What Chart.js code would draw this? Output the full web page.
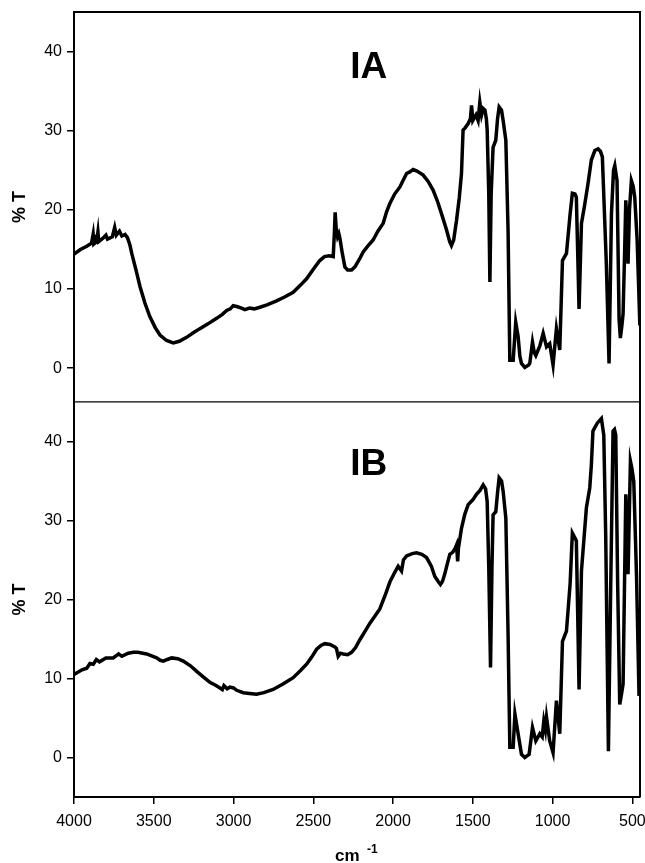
<!DOCTYPE html>
<html>
<head>
<meta charset="utf-8">
<script src="https://cdn.jsdelivr.net/npm/chart.js@4.4.1/dist/chart.umd.min.js"></script>
<style>
  html, body { margin: 0; padding: 0; background: #fff; }
  #wrap { width: 645px; height: 863px; position: relative; }
</style>
</head>
<body>
<div id="wrap"><canvas id="irChart"></canvas></div>
<script>
// wavenumber ticks (cm-1) and %T ticks
const xTicks = [4000, 3500, 3000, 2500, 2000, 1500, 1000, 500];
const yTicks = [0, 10, 20, 30, 40];
const panelNames = ['IA', 'IB'];

// spectrum IA (top)
const iaWave = [4000, 3960, 3920, 3890, 3880, 3875, 3858, 3850, 3845, 3820, 3800, 3790, 3760, 3745, 3735, 3715, 3700, 3680, 3665, 3650,
  3638, 3610, 3586, 3555, 3524, 3490, 3461, 3420, 3378, 3340, 3294, 3250, 3211, 3160, 3106, 3070, 3043, 3020, 3002, 2980,
  2950, 2929, 2900, 2870, 2835, 2790, 2730, 2680, 2626, 2580, 2542, 2500, 2459, 2430, 2400, 2375, 2368, 2363, 2356, 2348,
  2340, 2333, 2318, 2302, 2285, 2260, 2239, 2210, 2187, 2160, 2125, 2095, 2062, 2040, 2020, 1990, 1957, 1935, 1915, 1895,
  1874, 1850, 1811, 1780, 1749, 1720, 1696, 1665, 1645, 1634, 1620, 1602, 1585, 1571, 1561, 1550, 1529, 1515, 1508, 1500,
  1480, 1467, 1456, 1445, 1435, 1424, 1415, 1410, 1400, 1393, 1385, 1373, 1356, 1345, 1335, 1320, 1310, 1293, 1279, 1268,
  1247, 1231, 1216, 1205, 1195, 1174, 1150, 1143, 1126, 1115, 1105, 1080, 1059, 1038, 1018, 997, 976, 955, 938, 913,
  890, 876, 860, 851, 834, 819, 800, 778, 757, 735, 715, 700, 688, 663, 646, 631, 618, 610, 596, 583,
  575, 565, 558, 548, 541, 534, 527, 518, 506, 495, 485, 470, 460, 453];
const iaT = [14.4, 15.0, 15.4, 15.8, 16.9, 15.7, 16.0, 17.2, 16.0, 16.4, 16.8, 16.3, 16.6, 17.8, 16.8, 17.3, 16.7, 16.9, 16.5, 15.6,
  14.5, 12.3, 10.3, 8.2, 6.5, 5.1, 4.2, 3.5, 3.2, 3.4, 3.9, 4.5, 5.0, 5.6, 6.3, 6.8, 7.3, 7.5, 7.9, 7.8,
  7.6, 7.4, 7.6, 7.5, 7.7, 8.0, 8.5, 9.0, 9.6, 10.5, 11.3, 12.5, 13.6, 14.1, 14.2, 14.1, 17.0, 19.7, 17.5, 16.6,
  17.0, 16.4, 14.5, 12.8, 12.4, 12.4, 12.8, 13.8, 14.7, 15.4, 16.2, 17.3, 18.3, 19.8, 20.8, 22.0, 22.9, 23.8, 24.6, 24.8,
  25.1, 24.9, 24.4, 23.6, 22.5, 21.0, 19.5, 17.5, 16.0, 15.5, 16.2, 18.7, 21.5, 24.6, 30.1, 30.3, 30.9, 31.5, 33.2, 31.3,
  32.0, 31.3, 33.6, 32.0, 32.8, 32.6, 31.5, 30.1, 22.0, 10.9, 22.0, 27.9, 28.8, 31.5, 33.0, 32.6, 31.3, 28.8, 17.4, 1.0,
  1.0, 5.8, 4.0, 1.5, 0.6, 0.1, 0.4, 0.6, 3.3, 2.0, 1.6, 2.8, 4.4, 2.7, 3.1, 0.4, 5.0, 2.3, 13.6, 14.5,
  19.5, 22.1, 22.0, 21.6, 7.5, 18.3, 20.5, 23.3, 26.3, 27.5, 27.7, 27.4, 26.7, 13.2, 0.6, 19.5, 25.0, 25.6, 23.7, 6.1,
  3.8, 5.5, 6.9, 15.0, 21.2, 18.0, 13.2, 20.0, 23.7, 23.0, 21.6, 16.2, 10.0, 5.4];

// spectrum IB (bottom)
const ibWave = [4000, 3950, 3920, 3900, 3879, 3860, 3840, 3800, 3754, 3720, 3700, 3660, 3628, 3600, 3545, 3482, 3460, 3440, 3415, 3388,
  3350, 3315, 3270, 3231, 3190, 3148, 3110, 3085, 3070, 3060, 3040, 3023, 3000, 2980, 2939, 2900, 2856, 2810, 2752, 2690,
  2626, 2580, 2542, 2510, 2479, 2450, 2427, 2395, 2365, 2355, 2344, 2330, 2312, 2285, 2260, 2235, 2208, 2175, 2145, 2110,
  2083, 2050, 2020, 1990, 1968, 1947, 1935, 1915, 1880, 1853, 1820, 1790, 1760, 1738, 1715, 1703, 1690, 1676, 1660, 1644,
  1625, 1610, 1602, 1595, 1590, 1571, 1550, 1529, 1500, 1477, 1455, 1435, 1420, 1410, 1400, 1389, 1380, 1373, 1356, 1345,
  1335, 1320, 1310, 1293, 1279, 1268, 1247, 1236, 1216, 1195, 1174, 1147, 1126, 1105, 1080, 1065, 1055, 1045, 1038, 1018,
  997, 976, 955, 938, 913, 890, 876, 860, 851, 834, 819, 788, 767, 757, 747, 720, 694, 679, 667, 650,
  637, 621, 612, 604, 592, 579, 568, 558, 541, 534, 527, 512, 502, 491, 474, 458];
const ibT = [10.5, 11.1, 11.3, 11.9, 11.8, 12.4, 12.1, 12.6, 12.6, 13.1, 12.8, 13.2, 13.3, 13.3, 13.1, 12.6, 12.3, 12.2, 12.4, 12.6,
  12.5, 12.2, 11.6, 10.9, 10.2, 9.5, 9.1, 8.8, 8.6, 9.1, 8.7, 8.9, 8.8, 8.5, 8.2, 8.1, 8.0, 8.2, 8.6, 9.3,
  10.1, 11.0, 11.8, 12.7, 13.7, 14.2, 14.4, 14.3, 14.0, 13.8, 12.8, 13.2, 13.1, 13.0, 13.3, 13.9, 14.9, 16.0, 17.0, 18.0,
  18.8, 20.5, 22.2, 23.4, 24.2, 23.6, 25.0, 25.5, 25.8, 25.9, 25.7, 25.3, 24.2, 22.9, 22.2, 21.9, 22.3, 23.2, 24.5, 25.7,
  26.0, 26.5, 26.9, 24.8, 26.5, 29.0, 30.8, 32.0, 32.6, 33.3, 33.8, 34.5, 34.0, 32.4, 24.0, 11.4, 24.0, 30.7, 31.1, 33.5,
  35.4, 35.0, 33.7, 30.3, 15.6, 1.3, 1.3, 5.5, 3.0, 0.4, 0.0, 0.4, 3.8, 2.1, 3.0, 2.6, 4.6, 3.5, 5.1, 2.1,
  0.6, 7.2, 3.0, 14.7, 16.0, 22.0, 28.4, 27.8, 27.4, 8.6, 23.6, 31.6, 34.1, 37.0, 41.3, 42.3, 42.9, 40.8, 28.2, 0.8,
  19.8, 41.3, 41.5, 40.8, 21.9, 6.7, 8.0, 9.3, 33.3, 30.0, 23.2, 37.5, 36.5, 34.9, 23.2, 7.8];

const toPoints = (w, t) => w.map((v, i) => ({ x: v, y: t[i] }));

const font = 'Liberation Sans, Arial, Helvetica, sans-serif';

const yAxis = (min, weight) => ({
  type: 'linear',
  position: 'left',
  stack: 'panels',
  stackWeight: weight,
  min: min,
  max: 45,
  afterBuildTicks: (s) => { s.ticks = yTicks.map(v => ({ value: v })); },
  afterFit: (s) => { s.width = 74; s.paddingTop = 0; s.paddingBottom = 0; },
  grid: { drawOnChartArea: false, drawTicks: true, tickLength: 7, color: '#000', lineWidth: 1.5 },
  border: { display: true, color: '#000', width: 2 },
  ticks: { color: '#000', font: { family: font, size: 16 }, padding: 5, callback: (v) => String(v) },
  title: { display: true, text: '% T', color: '#000', font: { family: font, size: 18, weight: 'bold' }, padding: { top: 9, bottom: 0 } }
});

const framePlugin = {
  id: 'frame',
  afterDraw(chart) {
    const c = chart.ctx, a = chart.chartArea;
    const yA = chart.scales.yA;
    c.save();
    c.strokeStyle = '#000';
    c.lineWidth = 2;
    c.beginPath();
    c.moveTo(a.left, a.top);
    c.lineTo(a.right, a.top);
    c.lineTo(a.right, a.bottom);
    c.stroke();
    c.lineWidth = 1.3;
    c.beginPath();
    c.moveTo(a.left, yA.bottom);
    c.lineTo(a.right, yA.bottom);
    c.stroke();

    // panel names
    const x = chart.scales.x;
    c.fillStyle = '#000';
    c.textAlign = 'center';
    c.textBaseline = 'alphabetic';
    c.font = 'bold 37px ' + font;
    c.fillText(panelNames[0], x.getPixelForValue(2152), chart.scales.yA.getPixelForValue(36.6));
    c.fillText(panelNames[1], x.getPixelForValue(2152), chart.scales.yB.getPixelForValue(35.8));

    // x title with superscript
    c.textAlign = 'left';
    c.font = 'bold 17px ' + font;
    c.fillText('cm', 335, 861);
    c.font = 'bold 12px ' + font;
    c.fillText('-1', 367, 853);
    c.restore();
  }
};

new Chart(document.getElementById('irChart'), {
  type: 'line',
  data: {
    datasets: [
      { label: 'IA', data: toPoints(iaWave, iaT), yAxisID: 'yA', borderColor: '#000', borderWidth: 3.5, pointRadius: 0, tension: 0, fill: false },
      { label: 'IB', data: toPoints(ibWave, ibT), yAxisID: 'yB', borderColor: '#000', borderWidth: 3.5, pointRadius: 0, tension: 0, fill: false }
    ]
  },
  options: {
    responsive: true,
    maintainAspectRatio: false,
    animation: false,
    layout: { padding: { top: 12, right: 5, left: 0, bottom: 0 } },
    plugins: { legend: { display: false }, tooltip: { enabled: false } },
    scales: {
      x: {
        type: 'linear',
        reverse: true,
        min: 452,
        max: 4000,
        afterBuildTicks: (s) => { s.ticks = xTicks.map(v => ({ value: v })); },
        afterFit: (s) => { s.height = 66; s.paddingLeft = 0; s.paddingRight = 0; },
        grid: { drawOnChartArea: false, drawTicks: true, tickLength: 7, color: '#000', lineWidth: 1.5 },
        border: { display: true, color: '#000', width: 2 },
        ticks: { color: '#000', font: { family: font, size: 16 }, padding: 8, maxRotation: 0, callback: (v) => String(v) }
      },
      yB: yAxis(-5, 395),
      yA: yAxis(-4.25, 389.7)
    }
  },
  plugins: [framePlugin]
});
</script>
</body>
</html>
